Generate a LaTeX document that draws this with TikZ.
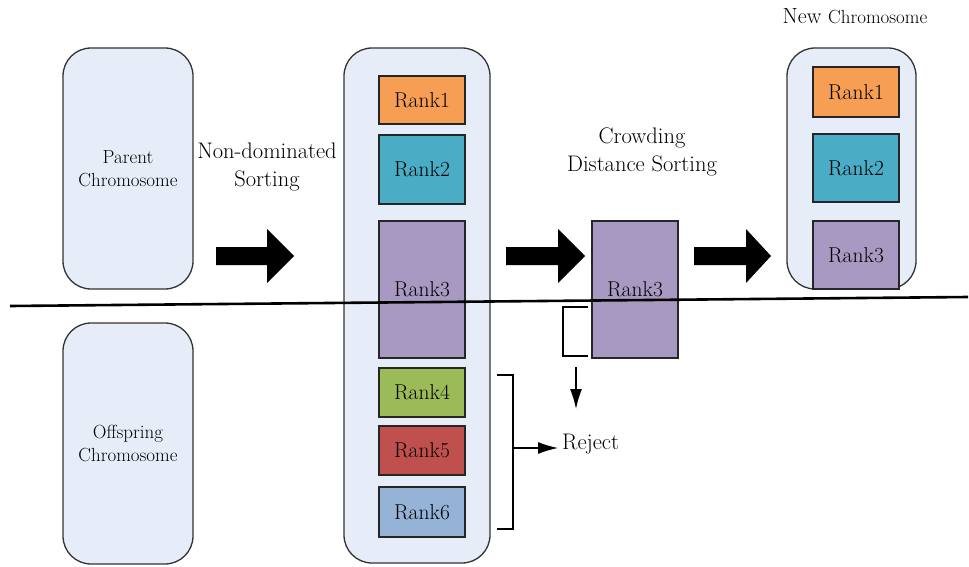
\documentclass[tikz,border=0pt]{standalone}
\usetikzlibrary{arrows.meta}
\definecolor{contfill}{HTML}{E7EDF8}
\definecolor{rorange}{HTML}{F79E55}
\definecolor{raqua}{HTML}{4BACC6}
\definecolor{rlav}{HTML}{A899C2}
\definecolor{rgreen}{HTML}{9BBB59}
\definecolor{rred}{HTML}{C0504D}
\definecolor{rblue}{HTML}{95B3D7}
\tikzset{
  container/.style={draw=black!80, line width=1.3pt, fill=contfill, rounded corners=28pt, align=center, inner sep=0pt},
  rankbox/.style={draw=black!85, line width=1.2pt, minimum width=86, inner sep=0pt, font=\rmfamily\fontsize{21.5}{23}\selectfont, text=black},
  lbl/.style={align=center, font=\rmfamily\fontsize{22.5}{28}\selectfont, text=black},
  smalllbl/.style={align=center, font=\rmfamily\fontsize{19}{23}\selectfont, text=black},
  bracket/.style={draw=black, line width=1.6pt},
  thinarrow/.style={draw=black, line width=1.3pt, -{Latex[length=20pt,width=12pt]}},
  blockarrow/.style={fill=black}
}
\begin{document}
\begin{tikzpicture}[x=1pt,y=-1pt]
\useasboundingbox (0,0) rectangle (969,567);

% containers
\node[container, smalllbl, minimum width=130, minimum height=241] (parent) at (128,168.5) {Parent\\Chromosome};
\node[container, smalllbl, minimum width=130, minimum height=241] (offspring) at (128,443.5) {Offspring\\Chromosome};
\node[container, minimum width=146, minimum height=515] (mid) at (417,305.5) {};
\node[container, minimum width=129, minimum height=241] (new) at (851.5,168.5) {};

% middle rank boxes
\node[rankbox, fill=rorange, minimum height=48] (m1) at (422,100) {Rank1};
\node[rankbox, fill=raqua, minimum height=69] (m2) at (422,169.5) {Rank2};
\node[rankbox, fill=rlav, minimum height=137] (m3) at (422,289.5) {Rank3};
\node[rankbox, fill=rgreen, minimum height=49] (m4) at (422,392.5) {Rank4};
\node[rankbox, fill=rred, minimum height=49] (m5) at (422,450.5) {Rank5};
\node[rankbox, fill=rblue, minimum height=50] (m6) at (422,512) {Rank6};

% crowding rank3
\node[rankbox, fill=rlav, minimum height=137] (c3) at (635,289.5) {Rank3};

% new chromosome boxes
\node[rankbox, fill=rorange, minimum height=50] (n1) at (856,92) {Rank1};
\node[rankbox, fill=raqua, minimum height=68] (n2) at (856,168) {Rank2};
\node[rankbox, fill=rlav, minimum height=68] (n3) at (856,255) {Rank3};

% labels
\node[lbl] (nds) at (267,167) {Non-dominated\\Sorting};
\node[lbl] (cds) at (642,151.5) {Crowding\\Distance Sorting};
\node[text=black, font=\rmfamily] (newlbl) at (855,16) {\fontsize{22}{23}\selectfont New \fontsize{19}{20}\selectfont Chromosome};

% divider line
\coordinate (dl) at (10,306);
\coordinate (dr) at (968,297);
\draw[line width=2.6pt] (dl) -- (dr);

% block arrows
\newcommand{\blockarr}[3]{%
  \fill[blockarrow] (#1,247) -- (#2,247) -- (#2,229) -- (#3,256) -- (#2,283) -- (#2,265) -- (#1,265) -- cycle;}
\blockarr{216}{267}{294}
\blockarr{506}{558}{585}
\blockarr{694}{746}{771}

% reject bracket
\coordinate (rb1) at (497,375);
\coordinate (rb2) at (513,375);
\coordinate (rb3) at (513,529);
\coordinate (rb4) at (497,529);
\coordinate (rbm) at (513,448);
\draw[bracket] (rb1) -- (rb2) -- (rb3) -- (rb4);
\node[lbl, anchor=west, inner sep=0pt] (reject) at (562,444) {Reject};
\draw[thinarrow] (rbm) -- ([xshift=-4pt]reject.west |- rbm);

% crowding bracket
\coordinate (cb1) at (588,307);
\coordinate (cb2) at (563,307);
\coordinate (cb3) at (563,356);
\coordinate (cb4) at (588,356);
\draw[bracket] (cb1) -- (cb2) -- (cb3) -- (cb4);
\coordinate (da1) at (576,367);
\coordinate (da2) at (576,409);
\draw[thinarrow] (da1) -- (da2);
\end{tikzpicture}
\end{document}
